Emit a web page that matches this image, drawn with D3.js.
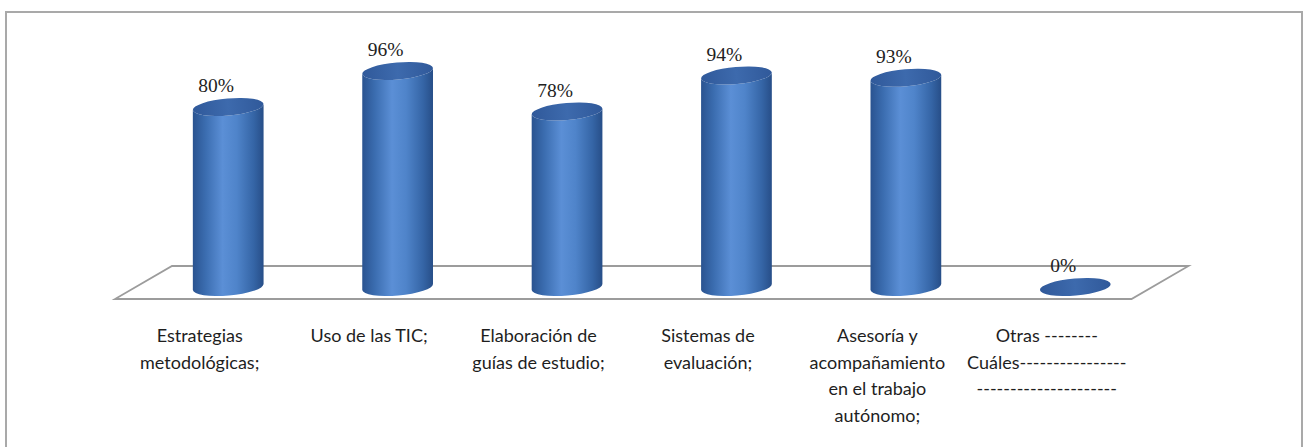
<!DOCTYPE html>
<html>
<head>
<meta charset="utf-8">
<script src="https://cdn.jsdelivr.net/npm/d3@7"></script>
<style>
  body { margin: 0; background: #fff; }
  svg { display: block; }
</style>
</head>
<body>
<svg id="cylinder-chart-svg"></svg>
<script>
// Chart Data
const categories = [
  "Estrategias metodológicas;",
  "Uso de las TIC;",
  "Elaboración de guías de estudio;",
  "Sistemas de evaluación;",
  "Asesoría y acompañamiento en el trabajo autónomo;",
  "Otras -------- Cuáles",
];
const categoryLines = [
  ["Estrategias", "metodológicas;"],
  ["Uso de las TIC;"],
  ["Elaboración de", "guías de estudio;"],
  ["Sistemas de", "evaluación;"],
  ["Asesoría y", "acompañamiento", "en el trabajo", "autónomo;"],
  ["Otras --------", "Cuáles----------------", "---------------------"],
];
const values = [80, 96, 78, 94, 93, 0];

const drawCylinderChart = () => {
  const svgWidth = 1309;
  const svgHeight = 447;
  const svg = d3
    .select("#cylinder-chart-svg")
    .attr("width", svgWidth)
    .attr("height", svgHeight);

  // Outer Frame
  svg
    .append("rect")
    .attr("x", 6)
    .attr("y", 12)
    .attr("width", 1296)
    .attr("height", 460)
    .style("fill", "#fff")
    .style("stroke", "#a9a9a9")
    .style("stroke-width", 2);

  // Gradients
  const defs = svg.append("defs");
  const bodyGrad = defs
    .append("linearGradient")
    .attr("id", "cyl-body")
    .attr("x1", "0%")
    .attr("x2", "100%");
  [
    ["0%", "#2a5390"],
    ["18%", "#3b6db0"],
    ["42%", "#5b8fd6"],
    ["62%", "#4f84ca"],
    ["86%", "#3565a6"],
    ["100%", "#274e88"],
  ].forEach(([o, c]) =>
    bodyGrad.append("stop").attr("offset", o).attr("stop-color", c)
  );
  const topGrad = defs
    .append("linearGradient")
    .attr("id", "cyl-top")
    .attr("x1", "0%")
    .attr("x2", "100%");
  [
    ["0%", "#30599a"],
    ["50%", "#3d6aad"],
    ["100%", "#30599a"],
  ].forEach(([o, c]) =>
    topGrad.append("stop").attr("offset", o).attr("stop-color", c)
  );

  // Scales
  const baseY = 287;
  const depthX = 28.5;
  const floorBackY = baseY - 21;
  const floorFrontY = baseY + 12;

  const xScale = d3
    .scaleBand()
    .domain(categories)
    .range([143.5, 1160])
    .padding(0);
  const yScale = d3.scaleLinear().domain([0, 100]).range([baseY, baseY - 225]);
  const cx = (d) => xScale(d) + xScale.bandwidth() / 2;

  // Floor
  const [x0, x1] = xScale.range();
  svg
    .append("path")
    .attr(
      "d",
      `M${x0 + depthX},${floorBackY} L${x1 + depthX},${floorBackY} L${
        x1 - depthX
      },${floorFrontY} L${x0 - depthX},${floorFrontY} Z`
    )
    .style("fill", "#fff")
    .style("stroke", "#9c9c9c")
    .style("stroke-width", 1.8);

  // Cylinders
  const rx = 35.5;
  const ry = 8.5;
  const tilt = -5;
  const dx = rx * Math.cos((tilt * Math.PI) / 180);
  const dy = rx * Math.sin((tilt * Math.PI) / 180);

  const rows = categories.map((c, i) => ({ cat: c, value: values[i], lines: categoryLines[i] }));

  const bars = svg.selectAll(".cylinder").data(rows).enter().append("g").classed("cylinder", true);

  bars
    .append("path")
    .attr("d", (d) => {
      const x = cx(d.cat);
      const yt = yScale(d.value);
      return `M${x - dx},${yt - dy} L${x - dx},${baseY - dy} A${rx},${ry} ${tilt} 0 0 ${
        x + dx
      },${baseY + dy} L${x + dx},${yt + dy} A${rx},${ry} ${tilt} 0 1 ${x - dx},${yt - dy} Z`;
    })
    .style("fill", "url(#cyl-body)");

  bars
    .append("ellipse")
    .attr("cx", (d) => cx(d.cat))
    .attr("cy", (d) => yScale(d.value))
    .attr("rx", rx)
    .attr("ry", ry)
    .attr("transform", (d) => `rotate(${tilt},${cx(d.cat)},${yScale(d.value)})`)
    .style("fill", "url(#cyl-top)");

  // Value Labels
  svg
    .selectAll(".value-label")
    .data(rows)
    .enter()
    .append("text")
    .classed("value-label", true)
    .attr("x", (d) => cx(d.cat) - 12)
    .attr("y", (d) => yScale(d.value) - 15)
    .attr("text-anchor", "middle")
    .style("font-family", "'Liberation Serif', 'DejaVu Serif', serif")
    .style("font-size", "19.5px")
    .style("fill", "#222")
    .text((d) => d.value + "%");

  // Category Labels
  const catLabels = svg
    .selectAll(".cat-label")
    .data(rows)
    .enter()
    .append("text")
    .classed("cat-label", true)
    .attr("text-anchor", "middle")
    .style("font-family", "Lato, 'Open Sans', sans-serif")
    .style("font-size", "18px")
    .style("fill", "#1e1e1e");

  catLabels
    .selectAll("tspan")
    .data((d) => d.lines.map((l) => ({ line: l, x: cx(d.cat) - depthX })))
    .enter()
    .append("tspan")
    .attr("x", (d) => d.x)
    .attr("y", (d, i) => 342 + i * 26.5)
    .text((d) => d.line);
};

drawCylinderChart();
</script>
</body>
</html>
